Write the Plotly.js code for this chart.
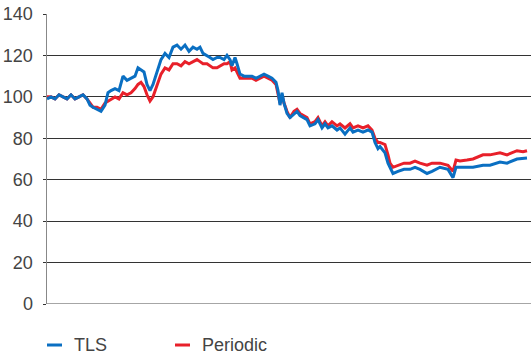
<!DOCTYPE html>
<html>
<head>
<meta charset="utf-8">
<script src="https://cdn.plot.ly/plotly-3.0.1.min.js"></script>
<style>html,body{margin:0;padding:0;background:#fff;}#chart{width:531px;height:358px;}</style>
</head>
<body>
<div id="chart"></div>
<script>
// time index (trading-day steps across the period)
var days = [0,4,8,12,16,20,24,28,32,36,40,43,46,50,54,58,61,64,68,72,76,80,84,88,91,94,97,100,103,106,110,114,118,122,126,130,134,138,142,146,150,153,156,160,163,166,170,173,177,180,183,185,188,190,193,197,201,205,209,213,217,221,225,229,231,233,235,237,240,243,247,250,253,256,260,263,268,271,275,278,281,285,290,293,298,303,306,311,316,321,325,328,331,333,338,341,343,346,351,357,363,368,373,380,385,393,401,406,409,413,420,426,436,443,453,460,470,476,480,484];
var tls = [99,100,99,101,100,99,101,99,100,101,99,96,95,94,93,96,102,103,104,103,110,108,109,110,114,113,112,106,103,106,112,118,121,119,124,125,123,125,122,124,123,124,121,120,119,118,119,119,118,120,118,115,119,116,111,110,110,110,109,110,111,110,109,107,103,96,102,97,92,90,92,93,91,90,89,86,87,89,85,87,85,86,84,85,82,85,83,84,83,84,83,78,75,76,73,68,66,63,64,65,65,66,65,63,64,66,65,61,66,66,66,66,67,67,68.5,68,70,70.5,70.5];
var periodic = [100,100,99,101,100,99,101,99,100,101,99,97,95,95,94,97,98,99,100,99,102,101,102,104,106,107,105,101,98,100,106,111,114,113,116,116,115,117,116,117,118,117,116,116,115,114,114,115,116,116,117,113,114,112,109,109,109,109,108,109,110,109,108,106,102,97,101,97,93,90,93,94,92,91,90,87,88,90,86,88,86,88,86,87,85,87,85,86,85,86,84,80,78,78,77,72,68,66,67,68,68,69,68,67,68,68,67,64,69.5,69,69.5,70,72,72,73,72,74,73.5,74];
var seriesNames = ['TLS', 'Periodic'];
var seriesColors = ['#0a6fc2', '#e8202a'];
var yTicks = [0,20,40,60,80,100,120,140];

var font = {family: 'Liberation Sans, Arial, sans-serif', size: 18, color: '#444'};

var traces = [
  {x: days, y: periodic, name: seriesNames[1], type: 'scatter', mode: 'lines',
   line: {color: seriesColors[1], width: 3}},
  {x: days, y: tls, name: seriesNames[0], type: 'scatter', mode: 'lines',
   line: {color: seriesColors[0], width: 3}}
];

var legendY = -0.1414;
var shapes = [
  {type: 'line', xref: 'paper', yref: 'paper', x0: 0, x1: 0.031, y0: legendY, y1: legendY,
   line: {color: seriesColors[0], width: 3}},
  {type: 'line', xref: 'paper', yref: 'paper', x0: 0.2645, x1: 0.2955, y0: legendY, y1: legendY,
   line: {color: seriesColors[1], width: 3}},
  {type: 'line', xref: 'paper', yref: 'y', x0: 0, x1: 1, y0: 0, y1: 0,
   line: {color: '#888', width: 1.5}, layer: 'below'}
];
var annotations = [
  {xref: 'paper', yref: 'paper', x: 0.0517, y: legendY, text: seriesNames[0], showarrow: false,
   xanchor: 'left', yanchor: 'middle', font: font},
  {xref: 'paper', yref: 'paper', x: 0.316, y: legendY, text: seriesNames[1], showarrow: false,
   xanchor: 'left', yanchor: 'middle', font: font}
];

var layout = {
  width: 531, height: 358,
  margin: {l: 47, r: 0, t: 14, b: 54},
  paper_bgcolor: '#fff', plot_bgcolor: '#fff',
  showlegend: false,
  font: font,
  xaxis: {range: [0, 484], showgrid: false, zeroline: false, showticklabels: false,
          ticks: '', showline: false, fixedrange: true},
  yaxis: {range: [0, 140], tickvals: yTicks, ticktext: yTicks.map(String),
          showgrid: true, gridcolor: '#333', gridwidth: 1, zeroline: false,
          showline: true, linecolor: '#888', linewidth: 1.5,
          ticks: 'outside', ticklen: 3, tickcolor: '#333', ticklabelstandoff: 6,
          tickfont: font, fixedrange: true},
  shapes: shapes,
  annotations: annotations
};

Plotly.newPlot('chart', traces, layout, {displayModeBar: false, staticPlot: true});
</script>
</body>
</html>
